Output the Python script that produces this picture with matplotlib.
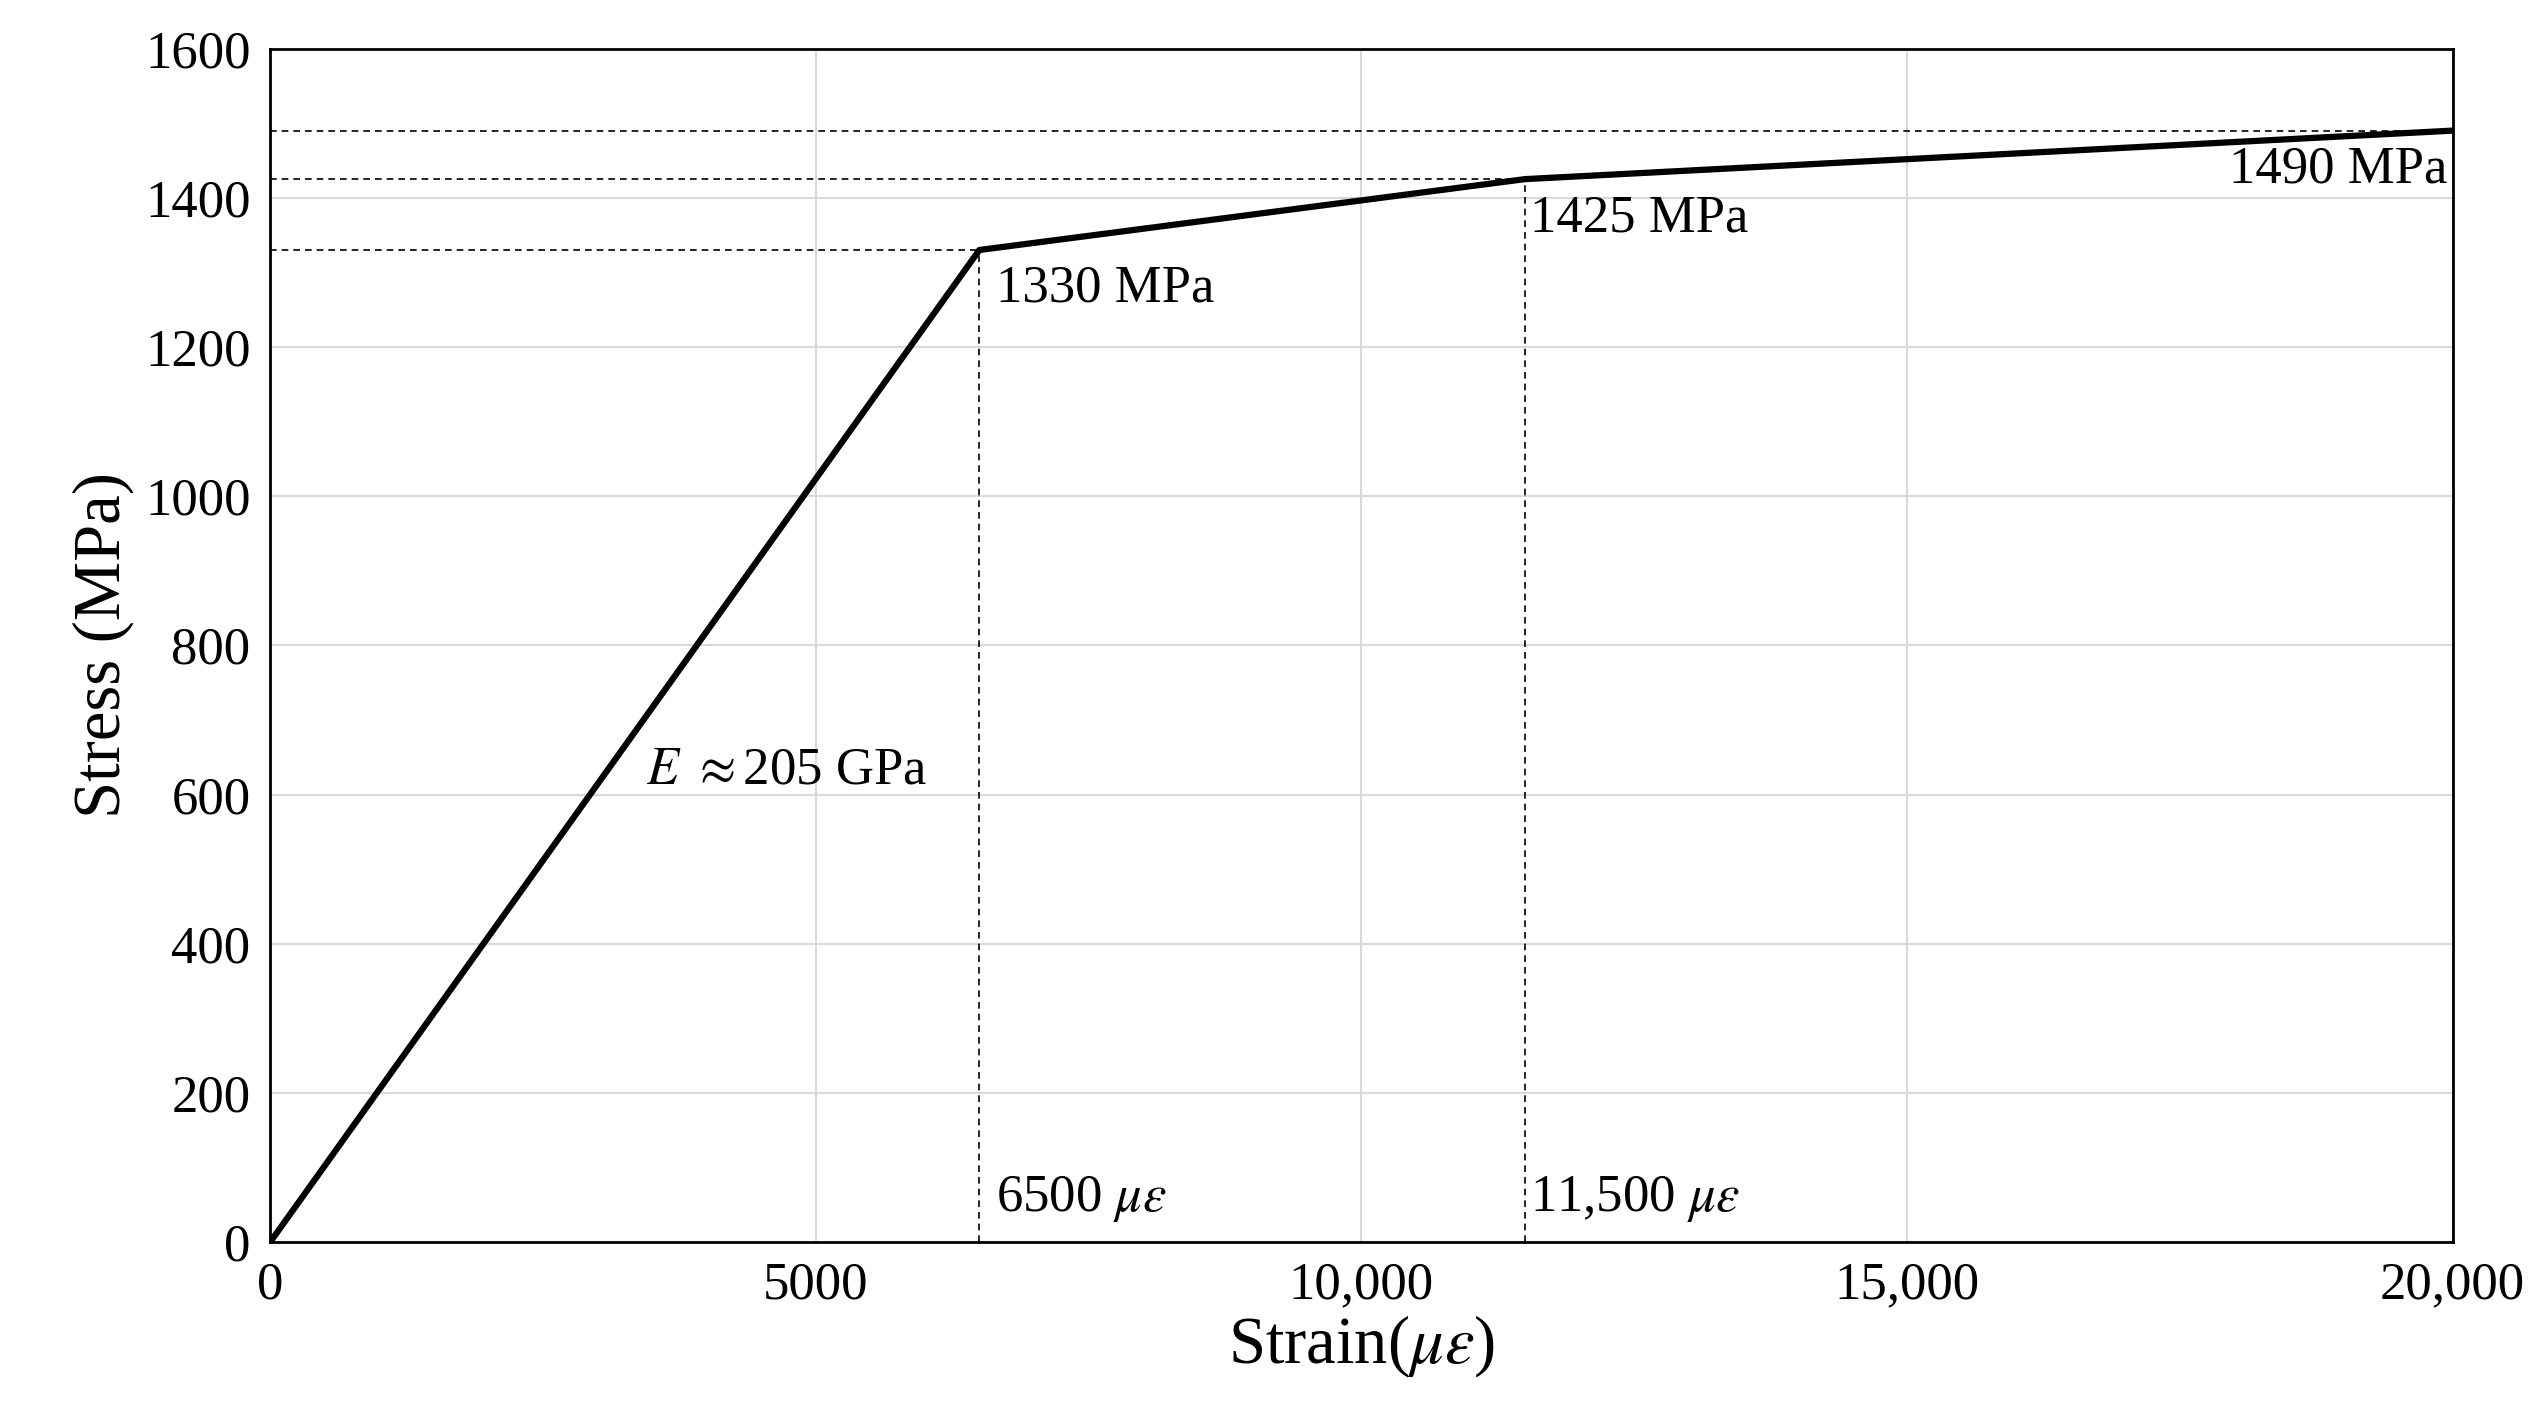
import matplotlib
matplotlib.use("Agg")
import matplotlib.pyplot as plt

# data
strain = [0, 6500, 11500, 20000]
stress = [0, 1330, 1425, 1490]
x_ticks = [0, 5000, 10000, 15000, 20000]
x_tick_labels = ["0", "5000", "10,000", "15,000", "20,000"]
y_ticks = [0, 200, 400, 600, 800, 1000, 1200, 1400, 1600]

plt.rcParams["font.family"] = ["Liberation Serif", "DejaVu Serif"]
plt.rcParams["mathtext.fontset"] = "stix"

fig = plt.figure(figsize=(25.35, 14.28), dpi=100)
ax = fig.add_axes([0.1065, 0.130, 0.861, 0.836])

ax.grid(True, color="#d9d9d9", linewidth=1.5)
ax.set_axisbelow(True)

# dashed guide lines
for sx, sy in zip(strain[1:], stress[1:]):
    ax.plot([0, sx], [sy, sy], "k--", linewidth=1.2, dashes=(4, 3))
for sx, sy in zip(strain[1:3], stress[1:3]):
    ax.plot([sx, sx], [0, sy], "k--", linewidth=1.2, dashes=(4, 3))

ax.plot(strain, stress, color="black", linewidth=4.5)

ax.set_xlim(0, 20000)
ax.set_ylim(0, 1600)
ax.set_xticks(x_ticks)
ax.set_xticklabels(x_tick_labels)
ax.set_yticks(y_ticks)
ax.tick_params(labelsize=38, length=0, pad=14)
for s in ax.spines.values():
    s.set_linewidth(2)

ax.set_xlabel(r"Strain($\mu\varepsilon$)", fontsize=48, labelpad=2)
ax.set_ylabel("Stress (MPa)", fontsize=48, labelpad=8)

fs = 38
ax.text(6650, 1310, "1330 MPa", fontsize=fs, va="top")
ax.text(11550, 1405, "1425 MPa", fontsize=fs, va="top")
ax.text(19950, 1470, "1490 MPa", fontsize=fs, va="top", ha="right")
ax.text(6650, 25, r"6500 $\mu\varepsilon$", fontsize=fs, va="bottom")
ax.text(11550, 25, r"11,500 $\mu\varepsilon$", fontsize=fs, va="bottom")
ax.text(3450, 600, r"$E$ $\approx$205 GPa", fontsize=fs, va="bottom")

fig.savefig("out.png", dpi=100)
